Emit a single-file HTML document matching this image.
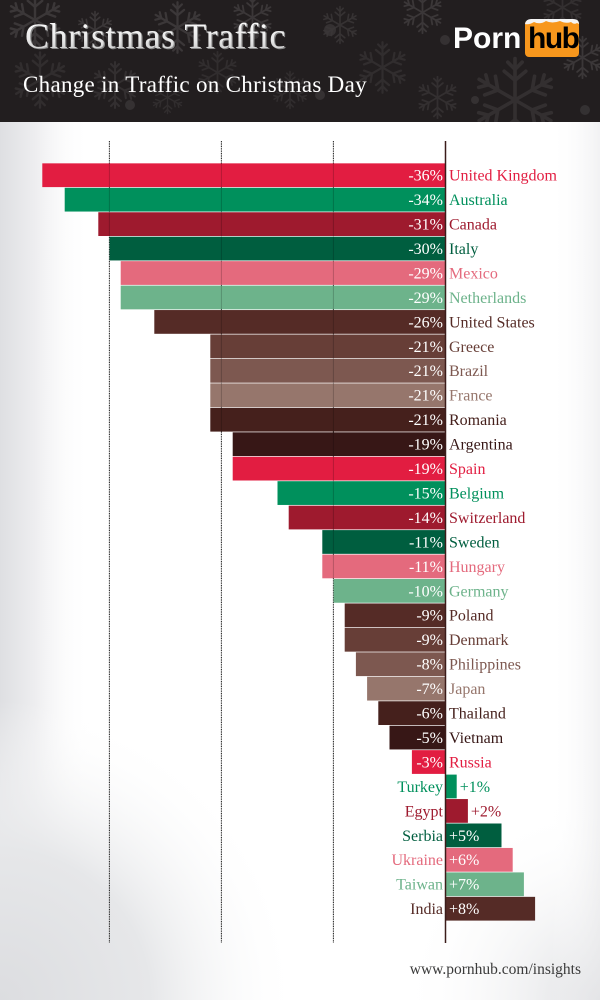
<!DOCTYPE html>
<html><head><meta charset="utf-8"><style>
html,body{margin:0;padding:0;width:600px;height:1000px;overflow:hidden;background:#fff}
svg{display:block}
.t{font-family:"Liberation Serif",serif}
.s{font-family:"Liberation Sans",sans-serif;font-weight:bold}
</style></head><body>
<svg width="600" height="1000" viewBox="0 0 600 1000" xmlns="http://www.w3.org/2000/svg">
<defs>
<clipPath id="hc"><rect x="0" y="0" width="600" height="122"/></clipPath>
<linearGradient id="lg" x1="0" x2="1" y1="0" y2="0">
<stop offset="0" stop-color="#dedfe2"/>
<stop offset="0.4" stop-color="#eeeef0"/>
<stop offset="1" stop-color="#ffffff" stop-opacity="0"/>
</linearGradient>
<radialGradient id="bl" cx="0" cy="1000" r="300" gradientUnits="userSpaceOnUse">
<stop offset="0" stop-color="#dcdde0"/>
<stop offset="0.5" stop-color="#e6e7e9"/>
<stop offset="1" stop-color="#ffffff" stop-opacity="0"/>
</radialGradient>
<radialGradient id="br" cx="600" cy="1000" r="200" gradientUnits="userSpaceOnUse">
<stop offset="0" stop-color="#dcdde0"/>
<stop offset="1" stop-color="#ffffff" stop-opacity="0"/>
</radialGradient>
<linearGradient id="rg" x1="1" x2="0" y1="0" y2="0">
<stop offset="0" stop-color="#e9e9eb"/>
<stop offset="1" stop-color="#ffffff" stop-opacity="0"/>
</linearGradient>
<linearGradient id="tg" x1="0" x2="0" y1="0" y2="1">
<stop offset="0" stop-color="#ffffff"/>
<stop offset="0.6" stop-color="#e8e8e8"/>
<stop offset="1" stop-color="#bdbdbd"/>
</linearGradient>
<symbol id="flake" viewBox="-50 -50 100 100">
<g stroke="#5a5657" stroke-width="4" fill="none" stroke-linecap="round">
<g id="arm"><line x1="0" y1="0" x2="0" y2="-46"/><line x1="0" y1="-22" x2="-12" y2="-32"/><line x1="0" y1="-22" x2="12" y2="-32"/><line x1="0" y1="-34" x2="-8" y2="-42"/><line x1="0" y1="-34" x2="8" y2="-42"/></g>
<use href="#arm" transform="rotate(60)"/><use href="#arm" transform="rotate(120)"/><use href="#arm" transform="rotate(180)"/><use href="#arm" transform="rotate(240)"/><use href="#arm" transform="rotate(300)"/>
</g>
</symbol>
</defs>

<!-- page background -->
<rect x="0" y="121" width="600" height="879" fill="#ffffff"/>
<rect x="0" y="121" width="90" height="879" fill="url(#lg)"/>
<rect x="0" y="700" width="300" height="300" fill="url(#bl)"/>
<rect x="400" y="800" width="200" height="200" fill="url(#br)"/>
<rect x="550" y="121" width="50" height="879" fill="url(#rg)" opacity="0.6"/>

<!-- header -->
<g clip-path="url(#hc)">
<rect x="0" y="0" width="600" height="122" fill="#221e1f"/>
<g opacity="0.45">
<use href="#flake" x="5" y="-10" width="60" height="60"/>
<use href="#flake" x="75" y="10" width="40" height="40"/>
<use href="#flake" x="10" y="50" width="60" height="60" opacity="0.6"/>
<use href="#flake" x="90" y="60" width="50" height="50" opacity="0.7"/>
<use href="#flake" x="150" y="0" width="55" height="55"/>
<use href="#flake" x="195" y="50" width="45" height="45" opacity="0.6"/>
<use href="#flake" x="230" y="-5" width="45" height="45"/>
<use href="#flake" x="270" y="70" width="40" height="40" opacity="0.6"/>
<use href="#flake" x="320" y="5" width="40" height="40" opacity="0.8"/>
<use href="#flake" x="355" y="40" width="55" height="55" opacity="0.6"/>
<use href="#flake" x="400" y="-10" width="45" height="45"/>
<use href="#flake" x="415" y="75" width="45" height="45" opacity="0.7"/>
<use href="#flake" x="470" y="55" width="90" height="90" opacity="0.7"/>
<use href="#flake" x="560" y="35" width="45" height="45"/>
<use href="#flake" x="540" y="-15" width="45" height="45" opacity="0.7"/>
<use href="#flake" x="150" y="80" width="35" height="35" opacity="0.6"/>
</g>
<g fill="#3a3637" opacity="0.8">
<circle cx="330" cy="30" r="6"/><circle cx="320" cy="95" r="5"/><circle cx="445" cy="40" r="5"/><circle cx="255" cy="35" r="4"/><circle cx="130" cy="105" r="5"/><circle cx="475" cy="100" r="4"/><circle cx="585" cy="110" r="5"/>
</g>
</g>

<text class="t" x="25" y="48" font-size="36" letter-spacing="0.5" fill="#8a8a8a" transform="translate(1.2 1.2)">Christmas Traffic</text>
<text class="t" x="25" y="48" font-size="36" letter-spacing="0.5" fill="url(#tg)">Christmas Traffic</text>
<text class="t" x="23" y="92" font-size="23" letter-spacing="0.3" fill="#ffffff">Change in Traffic on Christmas Day</text>

<!-- logo -->
<text class="s" x="453" y="48" font-size="30" fill="#ffffff">Porn</text>
<rect x="525" y="20" width="54" height="37" rx="4" fill="#f7971d"/>
<path d="M525 24 Q526 19 531 19 L573 19 Q579 19 579 24 L577 23 Q574 25 571 22 Q566 24 560 21 Q552 24 546 21 Q540 25 534 22 Q529 25 525 24 Z" fill="#f4f4f4"/>
<text class="s" x="528" y="48" font-size="30" letter-spacing="-1.5" fill="#000000">hub</text>

<!-- bars -->
<g id="bars"></g>

<!-- footer -->
<text class="t" x="581" y="974" font-size="15.5" text-anchor="end" fill="#3a3a3a">www.pornhub.com/insights</text>
</svg>
<script>
(function(){
var C={red:"#e21d41",green:"#00905c",dred:"#9e1a2e",dgreen:"#005e3f",pink:"#e46a7d",lgreen:"#6db38b",b1:"#552b26",b2:"#673e37",b3:"#7d5850",tan:"#96766c",db:"#45201c",dk:"#371716"};
var cyc=["red","green","dred","dgreen","pink","lgreen","b1","b2","b3","tan","db","dk"];
var D=[["United Kingdom",-36],["Australia",-34],["Canada",-31],["Italy",-30],["Mexico",-29],["Netherlands",-29],["United States",-26],["Greece",-21],["Brazil",-21],["France",-21],["Romania",-21],["Argentina",-19],["Spain",-19],["Belgium",-15],["Switzerland",-14],["Sweden",-11],["Hungary",-11],["Germany",-10],["Poland",-9],["Denmark",-9],["Philippines",-8],["Japan",-7],["Thailand",-6],["Vietnam",-5],["Russia",-3],["Turkey",1],["Egypt",2],["Serbia",5],["Ukraine",6],["Taiwan",7],["India",8]];
var ns="http://www.w3.org/2000/svg";
var g=document.getElementById("bars");
function el(n,a,txt){var e=document.createElementNS(ns,n);for(var k in a)e.setAttribute(k,a[k]);if(txt!==undefined)e.textContent=txt;g.appendChild(e);return e;}
var Z=445.5,S=11.2,T=163,H=24.45;
[109.4,221.4,333.4].forEach(function(x){el("line",{x1:x,x2:x,y1:141,y2:943,stroke:"#2a2a2a","stroke-width":1,"stroke-dasharray":"1.2 1.2"});});
D.forEach(function(d,i){
 var col=C[cyc[i%12]],y=T+H*i,v=d[1],w=Math.abs(v)*S;
 var x=v<0?Z-w:Z;
 el("rect",{x:x,y:y+0.35,width:w,height:H-0.7,fill:col});
});
[109.4,221.4,333.4].forEach(function(x){el("line",{x1:x,x2:x,y1:141,y2:943,stroke:"#000","stroke-opacity":0.2,"stroke-width":1});});
el("line",{x1:Z,x2:Z,y1:141,y2:943,stroke:"#3b1c1a","stroke-width":1.5});
D.forEach(function(d,i){
 var col=C[cyc[i%12]],y=T+H*i,v=d[1],w=Math.abs(v)*S,by=y+17.6;
 if(v<0){
  el("text",{x:443,y:by,"font-size":16,"text-anchor":"end",fill:"#ffffff","class":"t"},v+"%");
  el("text",{x:449,y:by,"font-size":16,fill:col,"class":"t"},d[0]);
 } else {
  el("text",{x:443,y:by,"font-size":16,"text-anchor":"end",fill:col,"class":"t"},d[0]);
  if(w<40) el("text",{x:Z+w+3,y:by,"font-size":16,fill:col,"class":"t"},"+"+v+"%");
  else el("text",{x:449,y:by,"font-size":16,fill:"#ffffff","class":"t"},"+"+v+"%");
 }
});
})();
</script>
</body></html>
